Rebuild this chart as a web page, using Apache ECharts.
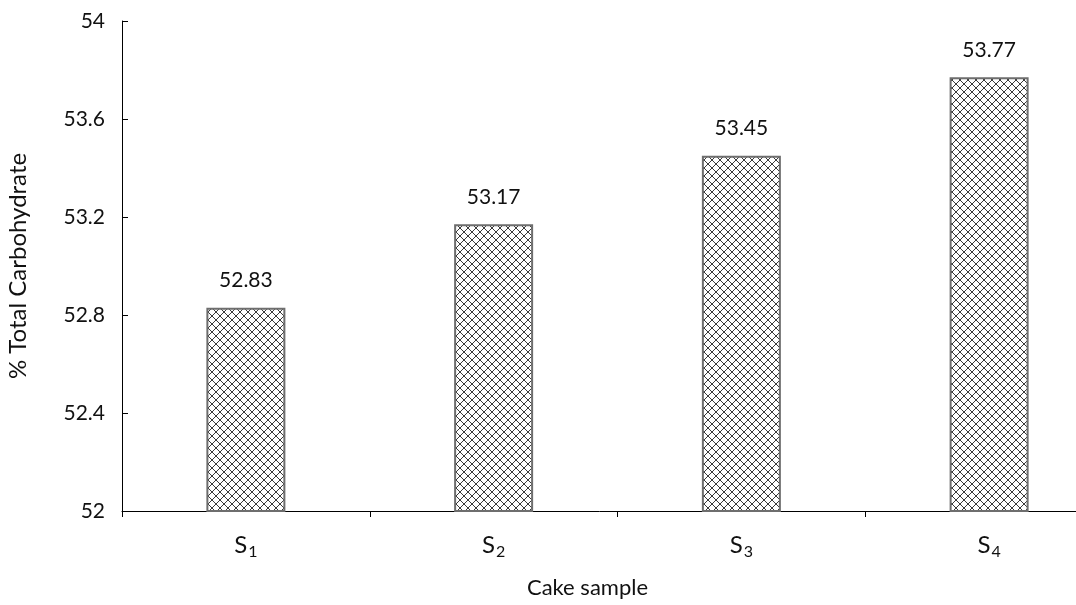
<!DOCTYPE html>
<html>
<head>
<meta charset="utf-8">
<script src="https://cdn.jsdelivr.net/npm/echarts@6/dist/echarts.min.js"></script>
<style>
  html, body { margin: 0; padding: 0; background: #fff; }
  #chart { width: 1076px; height: 605px; }
</style>
</head>
<body>
<div id="chart"></div>
<script>
// Cake samples and their total carbohydrate content (%)
const sampleIndex = ['1', '2', '3', '4'];
const carbohydrate = [52.83, 53.17, 53.45, 53.77];
const yTicks = { min: 52, max: 54, step: 0.4 };

// Cross-hatch fill for the bars
function hatchPattern() {
  const c = document.createElement('canvas');
  c.width = 8; c.height = 8;
  const g = c.getContext('2d');
  g.fillStyle = '#ffffff';
  g.fillRect(0, 0, 8, 8);
  g.strokeStyle = '#3a3a3a';
  g.lineWidth = 1;
  g.beginPath();
  g.moveTo(0, 0); g.lineTo(8, 8);
  g.moveTo(8, 0); g.lineTo(0, 8);
  g.stroke();
  return c;
}

const font = 'Lato, "Open Sans", sans-serif';
const ink = '#111';
const chart = echarts.init(document.getElementById('chart'));

chart.setOption({
  animation: false,
  backgroundColor: '#ffffff',
  // the last category band runs past the right edge of the canvas
  grid: { left: 122, top: 21, right: -37, bottom: 94, outerBoundsMode: 'none', containLabel: false },
  xAxis: {
    type: 'category',
    data: sampleIndex,
    name: 'Cake sample',
    nameLocation: 'middle',
    nameGap: 66,
    nameTextStyle: { fontFamily: font, fontSize: 22, color: ink, padding: [0, 60, 0, 0] },
    axisLine: { lineStyle: { color: '#000', width: 1 } },
    axisTick: { show: true, length: 6, inside: false, lineStyle: { color: '#000' } },
    axisLabel: {
      margin: 20,
      formatter: v => '{s|S}{sub|' + v + '}',
      rich: {
        s: { fontFamily: font, fontSize: 24, color: ink },
        sub: { fontFamily: font, fontSize: 16, color: ink, padding: [13, 0, 0, 1] }
      }
    }
  },
  yAxis: {
    type: 'value',
    min: yTicks.min,
    max: yTicks.max,
    interval: yTicks.step,
    name: '% Total Carbohydrate',
    nameLocation: 'middle',
    nameGap: 92,
    nameTextStyle: { fontFamily: font, fontSize: 24, color: ink },
    axisLine: { show: true, lineStyle: { color: '#000', width: 1 } },
    axisTick: { show: true, length: 6, inside: true, lineStyle: { color: '#000' } },
    splitLine: { show: false },
    axisLabel: {
      margin: 17,
      fontFamily: font,
      fontSize: 21,
      color: ink,
      formatter: v => String(Number(v.toFixed(1)))
    }
  },
  series: [{
    type: 'bar',
    data: carbohydrate,
    barWidth: 79,
    itemStyle: {
      color: { image: hatchPattern(), repeat: 'repeat' },
      borderColor: '#6e6e6e',
      borderWidth: 2
    },
    label: {
      show: true,
      position: 'top',
      distance: 17,
      fontFamily: font,
      fontSize: 21,
      color: ink,
      formatter: p => p.value.toFixed(2)
    }
  }]
});
</script>
</body>
</html>
